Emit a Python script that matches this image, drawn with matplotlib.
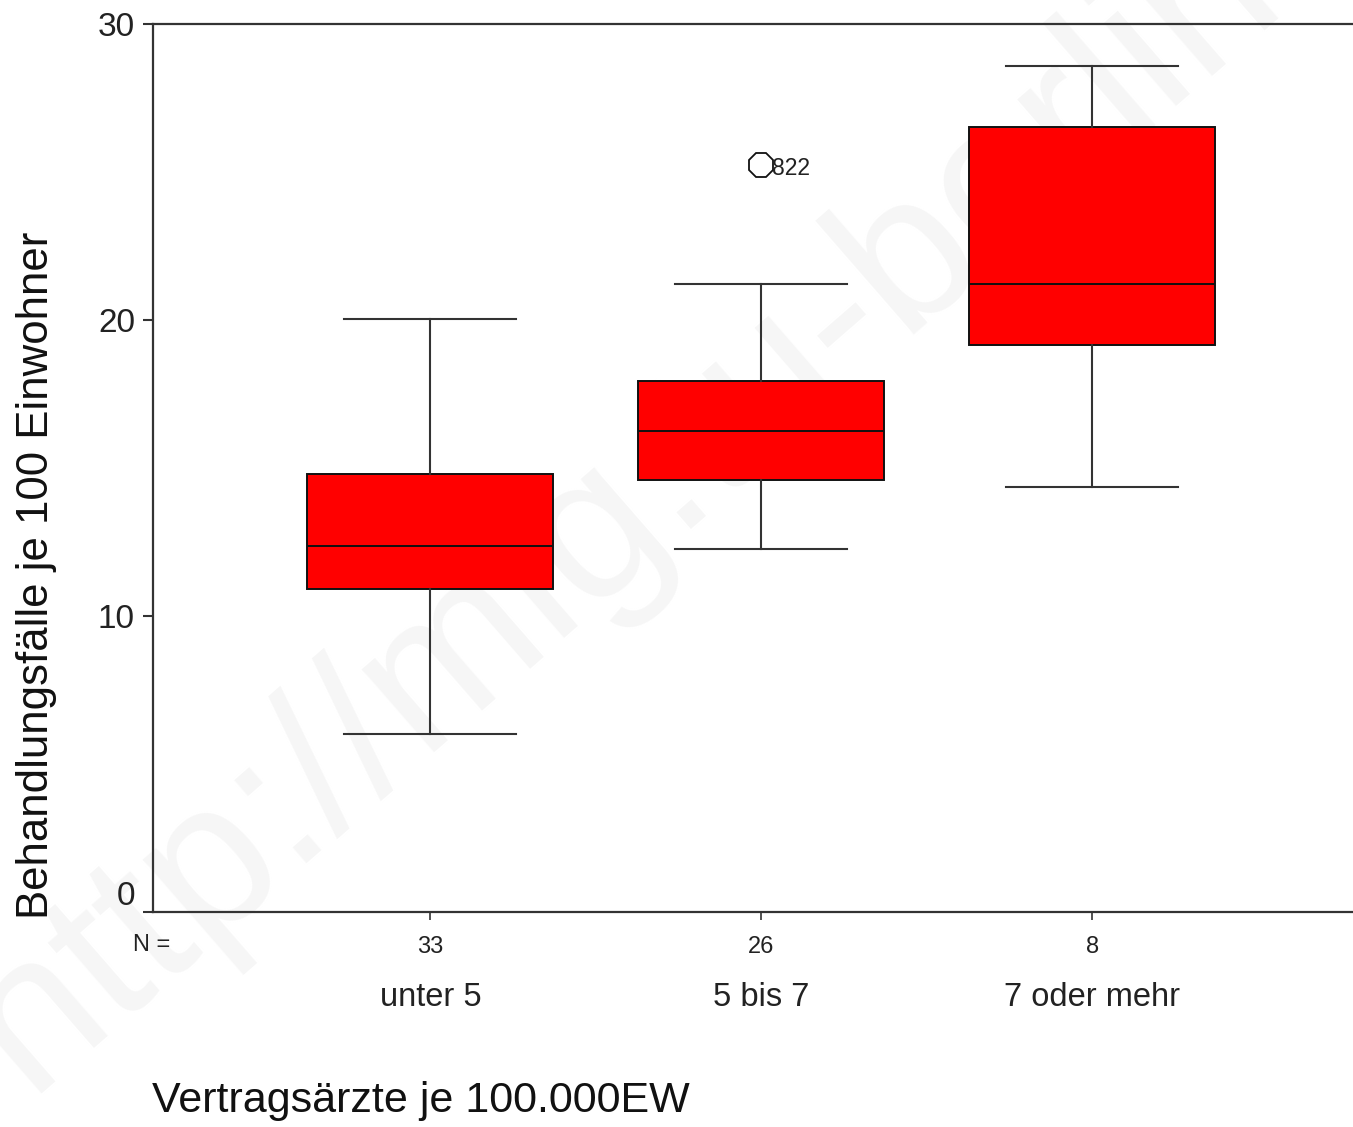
import matplotlib
matplotlib.use("Agg")
import matplotlib.pyplot as plt
import matplotlib.transforms as mtransforms

plt.rcParams['font.family'] = ['Liberation Sans', 'DejaVu Sans']

gruppen = ['unter 5', '5 bis 7', '7 oder mehr']
n_werte = [33, 26, 8]
whisker_lo = [6.0, 12.27, 14.37]
q1 = [10.90, 14.59, 19.15]
median = [12.37, 16.26, 21.22]
q3 = [14.79, 17.94, 26.53]
whisker_hi = [20.03, 21.22, 28.58]
ausreisser = [[], [25.24], []]
ausreisser_fall = [[], ['822'], []]
yticks = [0, 10, 20, 30]

W, H = 1353, 1127
fig = plt.figure(figsize=(W / 100, H / 100), dpi=100)
ax = fig.add_axes([153 / W, 1 - 912 / H, (W - 153) / W, (912 - 24) / H])
ax.patch.set_visible(False)

# sehr blasses Wasserzeichen im Hintergrund
fig.text(0.02, 0.03, 'http://mig.tu-berlin.de', fontsize=150, color='#f6f6f6',
         rotation=41, rotation_mode='anchor', ha='left', va='baseline', zorder=-10)

stats = []
for i in range(len(gruppen)):
    stats.append(dict(med=median[i], q1=q1[i], q3=q3[i],
                      whislo=whisker_lo[i], whishi=whisker_hi[i],
                      fliers=ausreisser[i], label=gruppen[i]))

pos = [1, 2, 3]
ax.bxp(stats, positions=pos, widths=0.743, capwidths=0.52, patch_artist=True,
       boxprops=dict(facecolor='#ff0000', edgecolor='#111111', linewidth=1.4),
       medianprops=dict(color='#111111', linewidth=1.4),
       whiskerprops=dict(color='#333333', linewidth=1.5),
       capprops=dict(color='#333333', linewidth=1.5),
       flierprops=dict(marker='8', markersize=18, markerfacecolor='none',
                       markeredgecolor='#111111', markeredgewidth=1.3))

for i in range(len(gruppen)):
    for v, lab in zip(ausreisser[i], ausreisser_fall[i]):
        ax.annotate(lab, (pos[i], v), xytext=(8, -1), textcoords='offset points',
                    fontsize=16.5, va='center_baseline', ha='left', color='#222222')

ax.set_xlim(0.162, 3.788)
ax.set_ylim(0, 30)
ax.set_yticks(yticks)
ax.set_yticklabels([str(t) for t in yticks], fontsize=24, color='#222222')
ax.tick_params(axis='y', direction='out', length=7, width=1.5, pad=6, colors='#333333',
               labelcolor='#222222')
ax.get_yticklabels()[0].set_va('bottom')

ax.set_xticks(pos)
ax.set_xticklabels([str(n) for n in n_werte], fontsize=17, color='#222222')
ax.tick_params(axis='x', direction='out', length=6, width=1.2, pad=11, colors='#333333',
               labelcolor='#222222')

for s in ['left', 'bottom', 'top']:
    ax.spines[s].set_linewidth(1.6)
    ax.spines[s].set_color('#333333')
ax.spines['right'].set_visible(False)

trans = mtransforms.blended_transform_factory(ax.transData, fig.transFigure)
for i, g in enumerate(gruppen):
    ax.text(pos[i], 1 - 997 / H, g, transform=trans, fontsize=23.5, ha='center',
            va='center', color='#222222')

fig.text(152 / W, 1 - 945 / H, 'N =', fontsize=17, ha='center', va='center', color='#222222')
fig.text(37 / W, 1 - 575 / H, 'Behandlungsfälle je 100 Einwohner', fontsize=31.5,
         rotation=90, ha='center', va='center', color='#111111')
fig.text(152 / W, 1 - 1101 / H, 'Vertragsärzte je 100.000EW', fontsize=31,
         ha='left', va='center', color='#111111')

fig.savefig('out.png', dpi=100, facecolor='white')
